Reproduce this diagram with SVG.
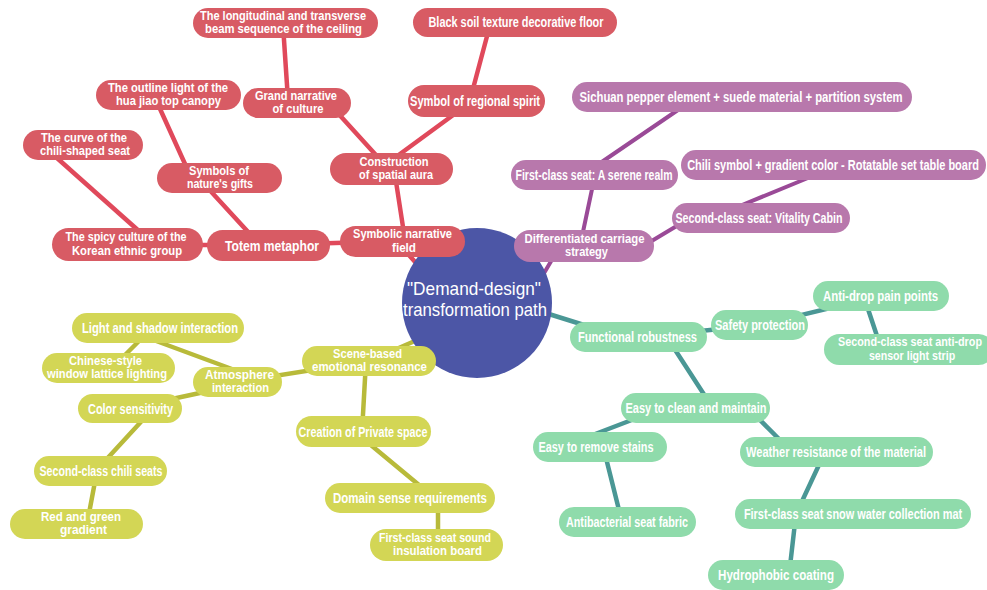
<svg xmlns="http://www.w3.org/2000/svg" width="987" height="590" viewBox="0 0 987 590">
<style>
.bg{fill:#ffffff}
.r{fill:#d85b64}
.p{fill:#b878ac}
.g{fill:#8fdbab}
.y{fill:#d3d655}
.hub{fill:#4c56a6}
text{font-family:"Liberation Sans",Arial,sans-serif;fill:#ffffff;text-anchor:middle;font-weight:bold}
.s{font-size:14px}
.d{font-size:12px}
.h{font-size:19px;font-weight:normal}
.cr line{stroke:#e0495b;stroke-width:4.5;stroke-linecap:round}
.cp line{stroke:#9a4a97;stroke-width:4;stroke-linecap:round}
.cg line{stroke:#4a9795;stroke-width:4.5;stroke-linecap:round}
.cy line{stroke:#b8ba3a;stroke-width:4.5;stroke-linecap:round}
</style>
<rect class="bg" x="0" y="0" width="987" height="590"/>
<g id="connectors">
<g class="cr">
<line x1="283" y1="25" x2="288" y2="100"/>
<line x1="335" y1="110" x2="385" y2="165"/>
<line x1="490" y1="25" x2="470" y2="100"/>
<line x1="460" y1="110" x2="385" y2="165"/>
<line x1="395" y1="175" x2="405" y2="240"/>
<line x1="156" y1="100" x2="190" y2="175"/>
<line x1="205" y1="185" x2="260" y2="245"/>
<line x1="48" y1="150" x2="140" y2="232"/>
<line x1="130" y1="245" x2="270" y2="245"/>
<line x1="270" y1="245" x2="400" y2="241"/>
<line x1="400" y1="245" x2="440" y2="290"/>
</g>
<g class="cp">
<line x1="590" y1="170" x2="697" y2="97"/>
<line x1="595" y1="175" x2="580" y2="246"/>
<line x1="640" y1="248" x2="690" y2="218"/>
<line x1="730" y1="210" x2="820" y2="173"/>
<line x1="540" y1="280" x2="560" y2="246"/>
</g>
<g class="cg">
<line x1="520" y1="305" x2="600" y2="330"/>
<line x1="640" y1="337" x2="760" y2="325"/>
<line x1="760" y1="325" x2="880" y2="296"/>
<line x1="865" y1="300" x2="880" y2="345"/>
<line x1="670" y1="342" x2="705" y2="396"/>
<line x1="590" y1="436" x2="650" y2="413"/>
<line x1="750" y1="410" x2="785" y2="445"/>
<line x1="604" y1="450" x2="621" y2="518"/>
<line x1="825" y1="452" x2="797" y2="512"/>
<line x1="796" y1="514" x2="789" y2="575"/>
</g>
<g class="cy">
<line x1="369" y1="361" x2="440" y2="330"/>
<line x1="237" y1="382" x2="369" y2="361"/>
<line x1="366" y1="361" x2="362" y2="432"/>
<line x1="140" y1="335" x2="240" y2="372"/>
<line x1="150" y1="330" x2="115" y2="365"/>
<line x1="130" y1="408" x2="237" y2="385"/>
<line x1="150" y1="412" x2="104" y2="462"/>
<line x1="97" y1="471" x2="87" y2="524"/>
<line x1="360" y1="436" x2="425" y2="490"/>
<line x1="438" y1="498" x2="438" y2="545"/>
</g>
</g>
<g id="hub">
<circle class="hub" cx="477" cy="303" r="75"/>
<text class="h" x="474" y="295" textLength="134" lengthAdjust="spacingAndGlyphs">"Demand-design"</text>
<text class="h" x="475" y="316" textLength="144" lengthAdjust="spacingAndGlyphs">transformation path</text>
</g>
<g id="n-beam"><rect class="r" x="193" y="8" width="185" height="30" rx="15"/>
<text class="d" x="283" y="19.5" textLength="166" lengthAdjust="spacingAndGlyphs">The longitudinal and transverse</text>
<text class="d" x="283.5" y="33" textLength="157" lengthAdjust="spacingAndGlyphs">beam sequence of the ceiling</text></g>
<g id="n-floor"><rect class="r" x="413" y="8" width="204" height="29" rx="14.5"/>
<text class="s" x="516" y="27" textLength="175" lengthAdjust="spacingAndGlyphs">Black soil texture decorative floor</text></g>
<g id="n-outline"><rect class="r" x="96" y="80" width="145" height="30" rx="15"/>
<text class="d" x="168" y="91.5" textLength="120" lengthAdjust="spacingAndGlyphs">The outline light of the</text>
<text class="d" x="168.5" y="105" textLength="105" lengthAdjust="spacingAndGlyphs">hua jiao top canopy</text></g>
<g id="n-grand"><rect class="r" x="243" y="88" width="108" height="30" rx="15"/>
<text class="d" x="296" y="99.5" textLength="82" lengthAdjust="spacingAndGlyphs">Grand narrative</text>
<text class="d" x="298" y="113" textLength="51" lengthAdjust="spacingAndGlyphs">of culture</text></g>
<g id="n-regional"><rect class="r" x="408" y="85" width="137" height="32" rx="16"/>
<text class="s" x="475" y="106" textLength="130" lengthAdjust="spacingAndGlyphs">Symbol of regional spirit</text></g>
<g id="n-curve"><rect class="r" x="23" y="130" width="120" height="30" rx="15"/>
<text class="d" x="84" y="141.5" textLength="86" lengthAdjust="spacingAndGlyphs">The curve of the</text>
<text class="d" x="85" y="155" textLength="90" lengthAdjust="spacingAndGlyphs">chili-shaped seat</text></g>
<g id="n-nature"><rect class="r" x="157" y="163" width="125" height="30" rx="15"/>
<text class="d" x="219" y="174.5" textLength="60" lengthAdjust="spacingAndGlyphs">Symbols of</text>
<text class="d" x="220" y="188" textLength="66" lengthAdjust="spacingAndGlyphs">nature's gifts</text></g>
<g id="n-aura"><rect class="r" x="330" y="153" width="123" height="32" rx="16"/>
<text class="d" x="394" y="165.5" textLength="69" lengthAdjust="spacingAndGlyphs">Construction</text>
<text class="d" x="396" y="179" textLength="74" lengthAdjust="spacingAndGlyphs">of spatial aura</text></g>
<g id="n-korean"><rect class="r" x="52" y="228" width="151" height="33" rx="16.5"/>
<text class="d" x="126" y="241" textLength="121" lengthAdjust="spacingAndGlyphs">The spicy culture of the</text>
<text class="d" x="127" y="254.5" textLength="110" lengthAdjust="spacingAndGlyphs">Korean ethnic group</text></g>
<g id="n-totem"><rect class="r" x="207" y="230" width="123" height="31" rx="15.5"/>
<text class="s" x="272" y="250.5" textLength="94" lengthAdjust="spacingAndGlyphs">Totem metaphor</text></g>
<g id="n-symbolic"><rect class="r" x="340" y="226" width="125" height="31" rx="15.5"/>
<text class="d" x="402.5" y="238" textLength="99" lengthAdjust="spacingAndGlyphs">Symbolic narrative</text>
<text class="d" x="404" y="251.5" textLength="24" lengthAdjust="spacingAndGlyphs">field</text></g>
<g id="n-sichuan"><rect class="p" x="572" y="82" width="340" height="30" rx="15"/>
<text class="s" x="741" y="102" textLength="323" lengthAdjust="spacingAndGlyphs">Sichuan pepper element + suede material + partition system</text></g>
<g id="n-first"><rect class="p" x="511" y="160" width="167" height="30" rx="15"/>
<text class="s" x="594" y="180" textLength="157" lengthAdjust="spacingAndGlyphs">First-class seat: A serene realm</text></g>
<g id="n-chili"><rect class="p" x="681" y="150" width="305" height="30" rx="15"/>
<text class="s" transform="translate(833 170) scale(0.75 1)" x="0" y="0" textLength="389" lengthAdjust="spacingAndGlyphs">Chili symbol + gradient color - Rotatable set table board</text></g>
<g id="n-second"><rect class="p" x="672" y="203" width="178" height="30" rx="15"/>
<text class="s" x="759" y="223" textLength="167" lengthAdjust="spacingAndGlyphs">Second-class seat: Vitality Cabin</text></g>
<g id="n-diff"><rect class="p" x="514" y="230" width="140" height="32" rx="16"/>
<text class="d" x="584.5" y="242.5" textLength="120" lengthAdjust="spacingAndGlyphs">Differentiated carriage</text>
<text class="d" x="586.5" y="256" textLength="43" lengthAdjust="spacingAndGlyphs">strategy</text></g>
<g id="n-func"><rect class="g" x="570" y="322" width="137" height="30" rx="15"/>
<text class="s" x="637.5" y="342" textLength="119" lengthAdjust="spacingAndGlyphs">Functional robustness</text></g>
<g id="n-safety"><rect class="g" x="711" y="310" width="97" height="30" rx="15"/>
<text class="s" x="760" y="330" textLength="90" lengthAdjust="spacingAndGlyphs">Safety protection</text></g>
<g id="n-antidrop"><rect class="g" x="813" y="281" width="136" height="30" rx="15"/>
<text class="s" x="880.5" y="301" textLength="115" lengthAdjust="spacingAndGlyphs">Anti-drop pain points</text></g>
<g id="n-sensor"><rect class="g" x="824" y="334" width="170" height="31" rx="15.5"/>
<text class="d" transform="translate(910 346) scale(0.75 1)" x="0" y="0" textLength="192" lengthAdjust="spacingAndGlyphs">Second-class seat anti-drop</text>
<text class="d" transform="translate(912 359.5) scale(0.75 1)" x="0" y="0" textLength="115" lengthAdjust="spacingAndGlyphs">sensor light strip</text></g>
<g id="n-clean"><rect class="g" x="621" y="393" width="149" height="30" rx="15"/>
<text class="s" x="696" y="413" textLength="141" lengthAdjust="spacingAndGlyphs">Easy to clean and maintain</text></g>
<g id="n-stains"><rect class="g" x="533" y="432" width="134" height="30" rx="15"/>
<text class="s" x="596" y="452" textLength="115" lengthAdjust="spacingAndGlyphs">Easy to remove stains</text></g>
<g id="n-weather"><rect class="g" x="740" y="437" width="193" height="30" rx="15"/>
<text class="s" x="836" y="457" textLength="180" lengthAdjust="spacingAndGlyphs">Weather resistance of the material</text></g>
<g id="n-antibac"><rect class="g" x="559" y="507" width="137" height="30" rx="15"/>
<text class="s" x="627" y="527" textLength="122" lengthAdjust="spacingAndGlyphs">Antibacterial seat fabric</text></g>
<g id="n-snow"><rect class="g" x="735" y="499" width="236" height="30" rx="15"/>
<text class="s" transform="translate(853 519) scale(0.75 1)" x="0" y="0" textLength="291" lengthAdjust="spacingAndGlyphs">First-class seat snow water collection mat</text></g>
<g id="n-hydro"><rect class="g" x="708" y="560" width="136" height="30" rx="15"/>
<text class="s" x="776" y="580" textLength="116" lengthAdjust="spacingAndGlyphs">Hydrophobic coating</text></g>
<g id="n-light"><rect class="y" x="72" y="313" width="172" height="30" rx="15"/>
<text class="s" x="160" y="333" textLength="156" lengthAdjust="spacingAndGlyphs">Light and shadow interaction</text></g>
<g id="n-chinese"><rect class="y" x="42" y="353" width="133" height="30" rx="15"/>
<text class="d" x="105.5" y="364.5" textLength="73" lengthAdjust="spacingAndGlyphs">Chinese-style</text>
<text class="d" x="107" y="378" textLength="120" lengthAdjust="spacingAndGlyphs">window lattice lighting</text></g>
<g id="n-atmos"><rect class="y" x="193" y="367" width="89" height="30" rx="15"/>
<text class="d" x="239.5" y="378.5" textLength="69" lengthAdjust="spacingAndGlyphs">Atmosphere</text>
<text class="d" x="240.5" y="392" textLength="57" lengthAdjust="spacingAndGlyphs">interaction</text></g>
<g id="n-scene"><rect class="y" x="302" y="346" width="134" height="30" rx="15"/>
<text class="d" x="367.5" y="357.5" textLength="69" lengthAdjust="spacingAndGlyphs">Scene-based</text>
<text class="d" x="369.5" y="371" textLength="115" lengthAdjust="spacingAndGlyphs">emotional resonance</text></g>
<g id="n-color"><rect class="y" x="78" y="394" width="104" height="29" rx="14.5"/>
<text class="s" x="130.5" y="413.5" textLength="85" lengthAdjust="spacingAndGlyphs">Color sensitivity</text></g>
<g id="n-creation"><rect class="y" x="296" y="416" width="135" height="31" rx="15.5"/>
<text class="s" x="363" y="436.5" textLength="129" lengthAdjust="spacingAndGlyphs">Creation of Private space</text></g>
<g id="n-chiliseats"><rect class="y" x="34" y="456" width="133" height="30" rx="15"/>
<text class="s" x="101" y="476" textLength="123" lengthAdjust="spacingAndGlyphs">Second-class chili seats</text></g>
<g id="n-domain"><rect class="y" x="325" y="483" width="170" height="30" rx="15"/>
<text class="s" x="410" y="503" textLength="154" lengthAdjust="spacingAndGlyphs">Domain sense requirements</text></g>
<g id="n-redgreen"><rect class="y" x="10" y="509" width="133" height="30" rx="15"/>
<text class="d" x="81" y="520.5" textLength="80" lengthAdjust="spacingAndGlyphs">Red and green</text>
<text class="d" x="83.5" y="534" textLength="47" lengthAdjust="spacingAndGlyphs">gradient</text></g>
<g id="n-sound"><rect class="y" x="370" y="529" width="133" height="32" rx="16"/>
<text class="d" x="435" y="541.5" textLength="112" lengthAdjust="spacingAndGlyphs">First-class seat sound</text>
<text class="d" x="437.5" y="555" textLength="89" lengthAdjust="spacingAndGlyphs">insulation board</text></g>
</svg>
